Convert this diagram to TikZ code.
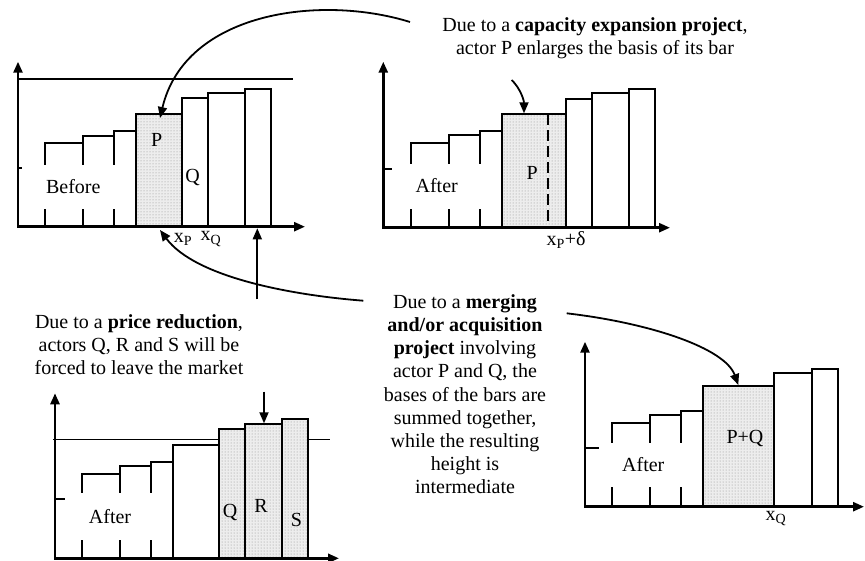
\documentclass[tikz,border=0pt]{standalone}
\usepackage{fontspec}
\setmainfont{Liberation Serif}
\usetikzlibrary{arrows.meta,patterns}
\tikzset{
  bar/.style={draw=black, line width=1.8pt, fill=white},
  sbar/.style={draw=black, line width=1.8pt, pattern=dots, pattern color=black!45, preaction={fill=black!7}},
  axis/.style={line width=2.5pt, {Triangle[length=11pt,width=9pt]}-{Triangle[length=11pt,width=9pt]}},
  arr/.style={line width=1.8pt, -{Triangle[length=11pt,width=9pt]}},
  hline/.style={line width=1.2pt},
  lbl/.style={font=\fontsize{20}{23}\selectfont, inner sep=0pt},
  wbox/.style={fill=white, inner sep=0pt, font=\fontsize{20}{23}\selectfont},
  txt/.style={align=center, font=\fontsize{20}{23.1}\selectfont, inner sep=0pt}
}
\begin{document}
\begin{tikzpicture}[x=1pt,y=-1pt]
\useasboundingbox (0,0) rectangle (865,560);
% ---------------- top-left chart (Before)
\draw[hline] (17,79) -- (293,79);
\draw[bar] (18,226.7) rectangle (45,168);
\draw[bar] (45,226.7) rectangle (83,143);
\draw[bar] (83,226.7) rectangle (114,135.7);
\draw[bar] (114,226.7) rectangle (136,130.7);
\draw[sbar] (136,226.7) rectangle (182,114);
\draw[bar] (182,226.7) rectangle (208,98);
\draw[bar] (208,226.7) rectangle (245,93);
\draw[bar] (245,226.7) rectangle (271,89);
\node[wbox, minimum width=103pt, minimum height=44pt] (tlB) at (73.3,187) {Before};
\coordinate (tlY) at (18,61.7);
\coordinate (tlO) at (18,226.7);
\coordinate (tlX) at (305,226.7);
\draw[axis] (tlY) -- (tlO) -- (tlX);
\node[lbl] (tlP) at (156.7,140) {P};
\node[lbl] (tlQ) at (192.7,177.3) {Q};
\node[lbl] (tlxp) at (183,239) {x\textsubscript{P}};
\node[lbl] (tlxq) at (211,239) {x\textsubscript{Q}};
% ---------------- top-right chart (After, capacity)
\draw[bar] (383.3,227.7) rectangle (410.7,169);
\draw[bar] (410.7,227.7) rectangle (448.7,143.3);
\draw[bar] (448.7,227.7) rectangle (479.7,135.3);
\draw[bar] (479.7,227.7) rectangle (502.3,131);
\draw[sbar] (502.3,227.7) rectangle (565.7,114.3);
\draw[line width=1.8pt, dash pattern=on 11pt off 5pt] (548.3,114.3) -- (548.3,227.7);
\draw[bar] (565.7,227.7) rectangle (592.3,99.3);
\draw[bar] (592.3,227.7) rectangle (629,93.3);
\draw[bar] (629,227.7) rectangle (655,89);
\node[wbox, minimum width=89pt, minimum height=45pt] (trA) at (436.7,186) {After};
\coordinate (trY) at (383.3,61.7);
\coordinate (trO) at (383.3,227.7);
\coordinate (trX) at (670,227.7);
\draw[axis] (trY) -- (trO) -- (trX);
\node[lbl] (trP) at (532.3,173.3) {P};
\node[lbl] (trxp) at (566,240) {x\textsubscript{P}+δ};
% ---------------- bottom-left chart (After, price)
\draw[hline] (53,439.3) -- (330,439.3);
\draw[bar] (55,558.3) rectangle (81.7,499.3);
\draw[bar] (81.7,558.3) rectangle (120.3,474);
\draw[bar] (120.3,558.3) rectangle (151,466);
\draw[bar] (151,558.3) rectangle (173,461.7);
\draw[bar] (173,558.3) rectangle (219,445);
\draw[sbar] (219,558.3) rectangle (245.3,429);
\draw[sbar] (245.3,558.3) rectangle (282,423.7);
\draw[sbar] (282,558.3) rectangle (308.3,419.3);
\node[wbox, minimum width=90pt, minimum height=47pt] (blA) at (110,516.5) {After};
\coordinate (blY) at (55,393.3);
\coordinate (blO) at (55,558.3);
\coordinate (blX) at (339,558.3);
\draw[axis] (blY) -- (blO) -- (blX);
\node[lbl] (blQ) at (230,512) {Q};
\node[lbl] (blR) at (261,505.5) {R};
\node[lbl] (blS) at (296.5,519.5) {S};
% ---------------- bottom-right chart (After, merging)
\draw[bar] (585,506.7) rectangle (611.7,448.3);
\draw[bar] (611.7,506.7) rectangle (650,422.7);
\draw[bar] (650,506.7) rectangle (680.7,415);
\draw[bar] (680.7,506.7) rectangle (703,410.7);
\draw[sbar] (703,506.7) rectangle (774.3,385.7);
\draw[bar] (774.3,506.7) rectangle (811.7,372.7);
\draw[bar] (811.7,506.7) rectangle (838,369);
\node[wbox, minimum width=89pt, minimum height=44pt] (brA) at (643.3,464.7) {After};
\coordinate (brY) at (585,341.7);
\coordinate (brO) at (585,506.7);
\coordinate (brX) at (864,506.7);
\draw[axis] (brY) -- (brO) -- (brX);
\node[lbl] (brPQ) at (745,438.3) {P+Q};
\node[lbl] (brxq) at (776,518.3) {x\textsubscript{Q}};
% ---------------- texts
\node[txt] (tcap) at (595,38) {Due to a \textbf{capacity expansion project},\\actor P enlarges the basis of its bar};
\node[txt] (tprice) at (139,345) {Due to a \textbf{price reduction},\\actors Q, R and S will be\\forced to leave the market};
\node[txt] (tmerge) at (465,394.2) {Due to a \textbf{merging}\\\textbf{and/or acquisition}\\\textbf{project} involving\\actor P and Q, the\\bases of the bars are\\summed together,\\while the resulting\\height is\\intermediate};
% ---------------- connectors
\coordinate (c1s) at (410,22);
\coordinate (c1e) at (160,118);
\draw[arr] (c1s) .. controls (320,-6) and (185,12) .. (c1e);
\coordinate (c2s) at (511.7,80);
\coordinate (c2e) at (524,113.3);
\draw[arr] (c2s) .. controls (520,88) and (524,100) .. (c2e);
\coordinate (c3s) at (363.3,300.7);
\coordinate (c3e) at (160,230);
\draw[arr] (c3s) .. controls (290,295) and (195,277) .. (c3e);
\coordinate (c4s) at (566.7,313.3);
\coordinate (c4e) at (738.3,385);
\draw[arr] (c4s) .. controls (650,323) and (725,348) .. (c4e);
\coordinate (c5s) at (257.3,299.3);
\coordinate (c5e) at (257.3,228.3);
\draw[arr] (c5s) -- (c5e);
\coordinate (c6s) at (264,391.7);
\coordinate (c6e) at (264,423.3);
\draw[arr] (c6s) -- (c6e);
\end{tikzpicture}
\end{document}
